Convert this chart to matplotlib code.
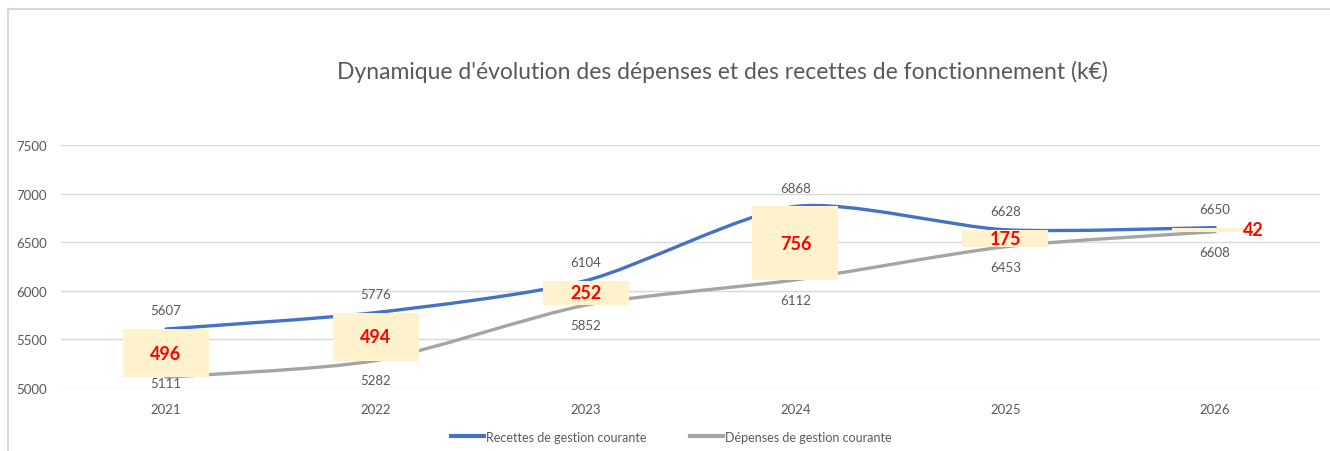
import numpy as np
import matplotlib.pyplot as plt
from matplotlib.path import Path
from matplotlib.patches import PathPatch, Rectangle
from matplotlib.lines import Line2D

plt.rcParams["font.family"] = ["Lato", "DejaVu Sans"]

years = ["2021", "2022", "2023", "2024", "2025", "2026"]
recettes = [5607, 5776, 6104, 6868, 6628, 6650]
depenses = [5111, 5282, 5852, 6112, 6453, 6608]
ecarts = [496, 494, 252, 756, 175, 42]

BLUE = "#4472C4"
GREY = "#A5A5A5"
TXT = "#595959"
YMIN, YMAX = 5000, 7500


def smooth_path(xs, ys, k=8):
    # cubic bezier through the points, roughly like Excel's smoothed lines
    pts = np.column_stack([xs, ys]).astype(float)
    n = len(pts)
    verts = [pts[0]]
    codes = [Path.MOVETO]
    for i in range(n - 1):
        p0 = pts[i - 1] if i > 0 else pts[i]
        p1, p2 = pts[i], pts[i + 1]
        p3 = pts[i + 2] if i + 2 < n else pts[i + 1]
        c1 = p1 + (p2 - p0) / k
        c2 = p2 - (p3 - p1) / k
        verts += [c1, c2, p2]
        codes += [Path.CURVE4] * 3
    return Path(verts, codes)


fig = plt.figure(figsize=(13.3, 4.52), dpi=100)
ax = fig.add_axes([0.0459, 0.1394, 0.9466, 0.5376])

x = np.arange(len(years))

for vals, col in [(recettes, BLUE), (depenses, GREY)]:
    ax.add_patch(PathPatch(smooth_path(x, vals), facecolor="none",
                           edgecolor=col, lw=2.4, capstyle="round", zorder=3))

# beige boxes showing the gap between the two curves
w = 0.41
for xi, lo, hi in zip(x, depenses, recettes):
    ax.add_patch(Rectangle((xi - w / 2, lo), w, hi - lo,
                           facecolor="#FFF2CC", edgecolor="none", zorder=4))

for xi, r, d, e in zip(x, recettes, depenses, ecarts):
    ax.annotate(str(r), (xi, r), xytext=(0, 9), textcoords="offset points",
                ha="center", va="bottom", fontsize=9.5, color=TXT, zorder=5)
    if d - YMIN < 250:
        # label pushed back inside the plot area
        ax.annotate(str(d), (xi, YMIN), xytext=(0, -1), textcoords="offset points",
                    ha="center", va="bottom", fontsize=9.5, color=TXT, zorder=5)
    else:
        ax.annotate(str(d), (xi, d), xytext=(0, -10), textcoords="offset points",
                    ha="center", va="top", fontsize=9.5, color=TXT, zorder=5)
    xl = xi + 0.18 if e < 100 else xi
    ax.text(xl, (r + d) / 2, str(e), ha="center", va="center",
            fontsize=13, fontweight="bold", color="#FF0000", zorder=6)

ax.set_xlim(-0.5, len(years) - 0.5)
ax.set_ylim(YMIN, YMAX)
ax.set_yticks(np.arange(YMIN, YMAX + 1, 500))
ax.set_xticks(x)
ax.set_xticklabels(years)
ax.tick_params(length=0, labelsize=9.5, colors=TXT)
ax.tick_params(axis="x", pad=11)
ax.tick_params(axis="y", pad=10)
ax.grid(axis="y", color="#D9D9D9", lw=1)
ax.set_axisbelow(True)
for s in ax.spines.values():
    s.set_visible(False)

fig.text(0.543, 0.84, "Dynamique d'évolution des dépenses et des recettes de fonctionnement (k€)",
         ha="center", va="center", fontsize=16.5, color=TXT)

handles = [Line2D([], [], color=BLUE, lw=3), Line2D([], [], color=GREY, lw=3)]
fig.legend(handles, ["Recettes de gestion courante", "Dépenses de gestion courante"],
           loc="center", bbox_to_anchor=(0.505, 0.032), ncol=2, frameon=False,
           fontsize=9, labelcolor=TXT, handlelength=2.6, handletextpad=0.2,
           columnspacing=3.5)

# light frame around the chart area (top and left visible)
fig.add_artist(Line2D([0.006, 1.0], [0.978, 0.978], color="#D9D9D9", lw=1.5,
                      transform=fig.transFigure))
fig.add_artist(Line2D([0.006, 0.006], [0.0, 0.978], color="#D9D9D9", lw=1.5,
                      transform=fig.transFigure))

fig.savefig("out.png", dpi=100)
